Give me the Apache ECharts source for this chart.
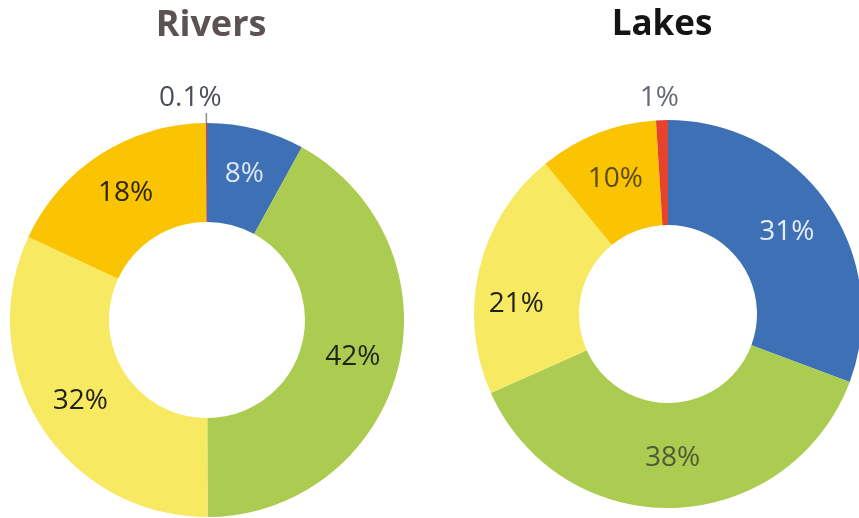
<!DOCTYPE html>
<html>
<head>
<meta charset="utf-8">
<script src="https://cdn.jsdelivr.net/npm/echarts@6/dist/echarts.min.js"></script>
<style>
  html, body { margin: 0; padding: 0; background: #fff; }
  #chart { width: 859px; height: 518px; }
</style>
</head>
<body>
<div id="chart"></div>
<script>
// Ecological status classes (share of water bodies, %)
const statusClasses = ['High', 'Good', 'Moderate', 'Poor', 'Bad'];
const riversValues = [8, 42, 32, 18, 0.1];
const lakesValues = [31, 38, 21, 10, 1];
const panelTitles = ['Rivers', 'Lakes'];

const classColors = ['#3E70B6', '#ABCB51', '#F7E962', '#FAC402', '#E5432B'];
const labelFont = '"Open Sans", "Noto Sans", sans-serif';
const SMALL_IDX = 4; // the "Bad" slice is too thin for an inside label

function buildData(values, labelColors) {
  return values.map((v, i) => {
    const item = {
      name: statusClasses[i],
      value: v,
      itemStyle: { color: classColors[i] },
      label: { color: labelColors[i] }
    };
    if (i === SMALL_IDX) {
      item.label = { position: 'outside', color: labelColors[i], distance: 0 };
    }
    return item;
  });
}

const chart = echarts.init(document.getElementById('chart'), null, { renderer: 'canvas' });

const baseLabel = {
  show: true,
  position: 'inside',
  formatter: '{c}%',
  fontFamily: labelFont,
  fontSize: 28,
  fontWeight: 400
};

chart.setOption({
  animation: false,
  backgroundColor: '#ffffff',
  title: [
    {
      text: panelTitles[0], left: 206, top: 3, textAlign: 'center',
      textStyle: { fontFamily: labelFont, fontWeight: 700, fontSize: 36, color: '#5B5252' }
    },
    {
      text: panelTitles[1], left: 657, top: 3, textAlign: 'center',
      textStyle: { fontFamily: labelFont, fontWeight: 700, fontSize: 35, color: '#141414' }
    }
  ],
  series: [
    {
      type: 'pie',
      center: [207, 320],
      radius: [98, 197],
      startAngle: 90,
      clockwise: true,
      avoidLabelOverlap: false,
      label: baseLabel,
      labelLine: { show: true, length: 10, length2: 0, lineStyle: { color: '#8C8C8C', width: 1.5 } },
      labelLayout: function (p) {
        if (p.dataIndex === SMALL_IDX) return { align: 'center', dx: -11, dy: -15 };
      },
      data: buildData(riversValues, ['#DDE5F4', '#1F2418', '#22221A', '#2B2608', '#4A4F5A'])
    },
    {
      type: 'pie',
      center: [668, 314],
      radius: [89, 194],
      startAngle: 90,
      clockwise: true,
      avoidLabelOverlap: false,
      label: baseLabel,
      labelLine: { show: false, length: 22, length2: 0 },
      labelLayout: function (p) {
        if (p.dataIndex === SMALL_IDX) return { align: 'center', dx: 3, dy: 0 };
        if (p.dataIndex === 2) return { dy: 23, dx: -11 };
      },
      data: buildData(lakesValues, ['#E6ECF7', '#525A38', '#22221A', '#5A4A10', '#666A72'])
    }
  ]
});
</script>
</body>
</html>
